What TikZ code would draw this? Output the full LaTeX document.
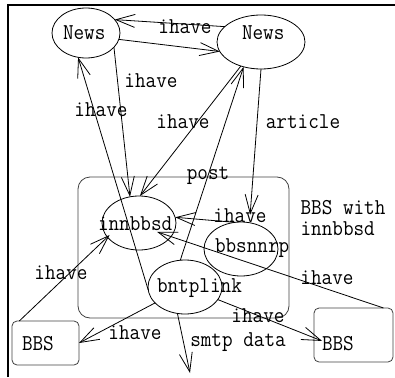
\documentclass[tikz,border=0pt]{standalone}
\usepackage{fontspec}
\usetikzlibrary{shapes.geometric,arrows.meta}
\newcommand{\T}[1]{\scalebox{1}[1.1]{#1}}
\newcommand{\NT}[3]{\makebox[0pt][l]{\hspace*{#1pt}\raisebox{#2pt}[0pt][0pt]{\T{#3}}}}
\newcommand{\dfont}{\ttfamily\fontsize{20.6}{19}\selectfont\addfontfeature{FakeBold=3}}
\begin{document}
\begin{tikzpicture}[x=1pt,y=-1pt,
  every node/.style={font=\dfont, inner sep=0pt, outer sep=0pt},
  ell/.style={draw, ellipse, line width=0.8pt},
  bbsbox/.style={draw=black!75, rounded corners=5pt, line width=0.8pt},
  grpbox/.style={draw=black!75, rounded corners=12pt, line width=0.8pt},
  edge/.style={draw, line width=0.8pt, -{Straight Barb[length=19pt,width=13pt]}}]
\useasboundingbox (0,0) rectangle (395,377);
\draw[line width=2pt] (8,377) -- (8,5) -- (395,5);

% nodes
\node[grpbox, minimum width=211pt, minimum height=141pt] (grp) at (183.5,247.5) {};
\node[ell, minimum width=68pt, minimum height=50pt] (newsL) at (86,33) {\NT{-23}{-7}{News}};
\node[ell, minimum width=88pt, minimum height=54pt] (newsR) at (261,42) {\NT{-19}{2}{News}};
\node[ell, minimum width=74pt, minimum height=54pt] (inn) at (139,223) {\NT{-41}{-7}{innbbsd}};
\node[ell, minimum width=74pt, minimum height=54pt] (nnrp) at (241,249) {\NT{-26}{-3}{bbsnnrp}};
\node[ell, minimum width=74pt, minimum height=54pt] (link) at (185,287) {\NT{-28}{-5}{bntplink}};
\node[bbsbox, minimum width=67pt, minimum height=44pt] (bbsL) at (45.5,343) {\NT{-23.5}{-7}{BBS}};
\node[bbsbox, minimum width=79pt, minimum height=54pt] (bbsR) at (353.5,335) {\NT{-31.5}{-15}{BBS}};
\coordinate (out) at (190,373);

% connectors
\draw[edge] (newsR.157) -- (newsL.25);
\draw[edge] (newsL.-11) -- (newsR.193);
\draw[edge] (link.185) -- (newsL.252);
\draw[edge] (newsL.-27) -- (inn.109);
\draw[edge] (newsR.230) -- (inn.88);
\draw[edge] (link.100) -- (newsR.235);
\draw[edge, shorten >=8pt] (newsR.270) -- (nnrp.72);
\draw[edge] (nnrp.103) -- (inn.9);
\draw[edge, shorten >=-14.6pt] (bbsR.42.5) -- (inn.-23.5);
\draw[edge, shorten >=-3pt] (bbsL.140) -- (inn.204);
\draw[edge] (link.208) -- (bbsL.east);
\draw[edge, shorten >=-8.6pt] (link.-21.5) -- (bbsR.184);
\draw[edge] (link.254) -- (out);

% labels
\node (l1) at (185,27) {\T{ihave}};
\node (l2) at (101,110) {\T{ihave}};
\node (l3) at (151,81) {\T{ihave}};
\node (l4) at (183,122) {\T{ihave}};
\node (l5) at (208,176) {\T{post}};
\node (l6) at (303,122) {\T{article}};
\node (l7) at (240,216) {\T{ihave}};
\node (l8) at (343,221) {\T{\begin{tabular}{@{}l@{}}BBS with\\innbbsd\end{tabular}}};
\node (l9) at (61,273) {\T{ihave}};
\node (l10) at (327,278) {\T{ihave}};
\node (l11) at (135,333) {\T{ihave}};
\node (l12) at (258,316) {\T{ihave}};
\node (l13) at (238,342) {\T{smtp data}};
\end{tikzpicture}
\end{document}
